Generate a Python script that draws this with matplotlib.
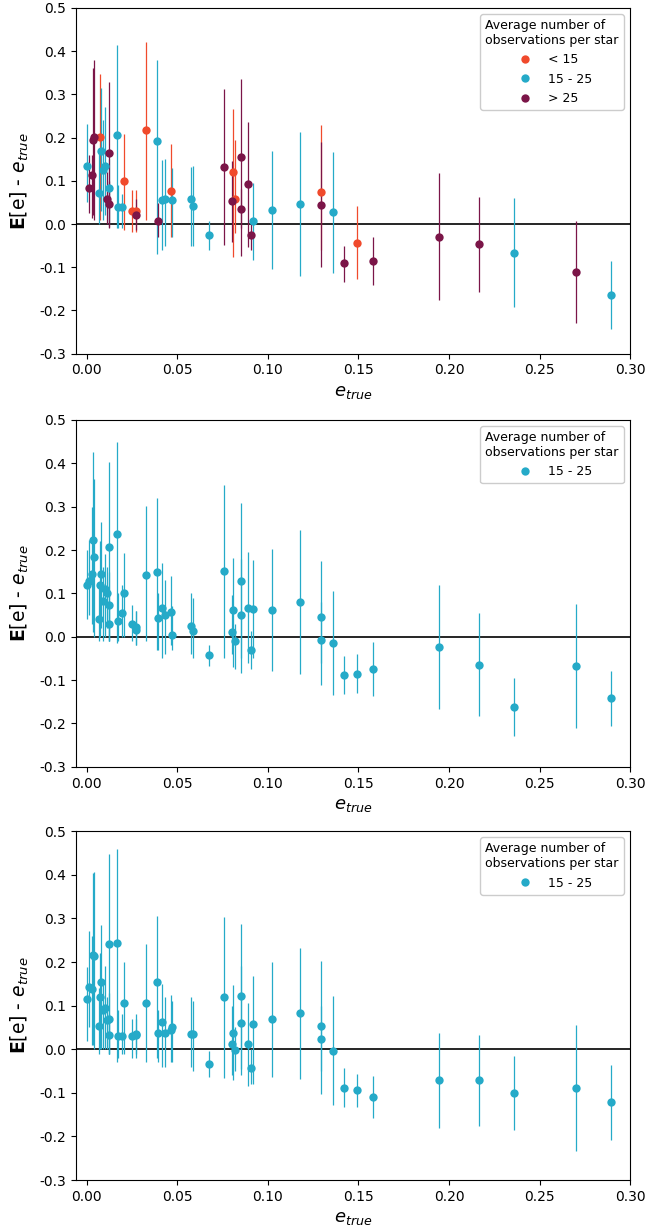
import numpy as np
import matplotlib
matplotlib.use("Agg")
import matplotlib.pyplot as plt
from matplotlib.lines import Line2D

plt.rcParams['axes.unicode_minus'] = False
plt.rcParams['font.family'] = ['DejaVu Sans']

# ---- data ----
e_true = [0.000, 0.001, 0.003, 0.0034, 0.0043, 0.0075, 0.007, 0.008, 0.009, 0.010,
          0.0123, 0.0123, 0.0114, 0.0123, 0.0167, 0.0173, 0.0197, 0.0206, 0.0249, 0.027,
          0.0274, 0.0327, 0.0388, 0.0396, 0.0414, 0.043, 0.0466, 0.0473, 0.0578, 0.0587,
          0.0678, 0.0758, 0.0808, 0.0805, 0.0818, 0.0851, 0.0854, 0.0891, 0.0917, 0.0906,
          0.1024, 0.1177, 0.1296, 0.1296, 0.136, 0.1418, 0.1493, 0.1578, 0.1947, 0.2164,
          0.2357, 0.2701, 0.2893]

group = ['mid', 'gt', 'gt', 'gt', 'gt', 'lt', 'mid', 'mid', 'mid', 'mid',
         'mid', 'gt', 'gt', 'gt', 'mid', 'mid', 'mid', 'lt', 'lt', 'lt',
         'gt', 'lt', 'mid', 'gt', 'mid', 'mid', 'lt', 'mid', 'mid', 'mid',
         'mid', 'gt', 'lt', 'gt', 'lt', 'gt', 'gt', 'gt', 'mid', 'gt',
         'mid', 'mid', 'gt', 'lt', 'mid', 'gt', 'lt', 'gt', 'gt', 'gt',
         'mid', 'gt', 'mid']

group_labels = {'lt': '< 15', 'mid': '15 - 25', 'gt': '> 25'}

# panel 1
y1 = [0.135, 0.083, 0.114, 0.195, 0.201, 0.201, 0.072, 0.168, 0.126, 0.135,
      0.083, 0.164, 0.058, 0.047, 0.207, 0.039, 0.039, 0.099, 0.031, 0.031,
      0.021, 0.217, 0.193, 0.008, 0.056, 0.058, 0.076, 0.056, 0.057, 0.042,
      -0.026, 0.133, 0.121, 0.053, 0.058, 0.155, 0.035, 0.092, 0.008, -0.025,
      0.032, 0.047, 0.045, 0.074, 0.027, -0.091, -0.043, -0.086, -0.029, -0.047,
      -0.066, -0.111, -0.164]
hi1 = [0.232, 0.160, 0.160, 0.362, 0.380, 0.347, 0.170, 0.315, 0.240, 0.272,
       0.150, 0.329, 0.120, 0.100, 0.414, 0.090, 0.070, 0.208, 0.079, 0.079,
       0.058, 0.422, 0.380, 0.049, 0.149, 0.150, 0.185, 0.130, 0.133, 0.135,
       0.006, 0.313, 0.266, 0.146, 0.195, 0.335, 0.080, 0.236, 0.095, 0.010,
       0.168, 0.214, 0.190, 0.229, 0.166, -0.050, 0.041, -0.031, 0.118, 0.063,
       0.061, 0.008, -0.086]
lo1 = [0.050, 0.026, 0.015, 0.020, 0.010, 0.010, 0.000, 0.030, 0.010, 0.020,
       0.000, -0.006, 0.000, -0.010, -0.009, -0.010, -0.010, -0.013, -0.018, -0.018,
       -0.013, 0.010, -0.070, -0.030, -0.060, -0.050, -0.030, -0.030, -0.050, -0.050,
       -0.060, -0.048, -0.077, -0.042, -0.020, -0.075, -0.010, -0.054, -0.083, -0.060,
       -0.103, -0.121, -0.100, -0.060, -0.113, -0.133, -0.126, -0.142, -0.175, -0.157,
       -0.193, -0.230, -0.242]

# panel 2
y2 = [0.120, 0.128, 0.144, 0.222, 0.184, 0.119, 0.042, 0.145, 0.082, 0.109,
      0.074, 0.206, 0.101, 0.029, 0.238, 0.037, 0.055, 0.101, 0.029, 0.022,
      0.015, 0.142, 0.150, 0.043, 0.066, 0.051, 0.058, 0.005, 0.025, 0.014,
      -0.043, 0.152, 0.061, 0.010, -0.009, 0.129, 0.050, 0.067, 0.063, -0.030,
      0.061, 0.079, -0.008, 0.046, -0.014, -0.088, -0.085, -0.074, -0.023, -0.064,
      -0.162, -0.068, -0.141]
hi2 = [0.199, 0.222, 0.300, 0.427, 0.363, 0.220, 0.120, 0.264, 0.160, 0.190,
       0.150, 0.403, 0.160, 0.080, 0.449, 0.100, 0.120, 0.194, 0.073, 0.060,
       0.060, 0.301, 0.319, 0.100, 0.170, 0.130, 0.140, 0.070, 0.100, 0.090,
       -0.018, 0.351, 0.182, 0.097, 0.030, 0.308, 0.180, 0.196, 0.177, 0.014,
       0.202, 0.245, 0.080, 0.174, 0.106, -0.044, -0.040, -0.013, 0.119, 0.054,
       -0.094, 0.075, -0.079]
lo2 = [0.040, 0.050, 0.030, 0.010, 0.000, 0.000, -0.010, 0.020, -0.010, 0.000,
       -0.010, -0.010, 0.020, -0.010, -0.015, -0.010, 0.000, 0.000, -0.010, -0.020,
       -0.020, -0.010, -0.030, -0.030, -0.050, -0.040, -0.020, -0.030, -0.040, -0.050,
       -0.067, -0.048, -0.070, -0.040, -0.075, -0.083, -0.050, -0.061, -0.050, -0.075,
       -0.080, -0.086, -0.111, -0.060, -0.134, -0.133, -0.129, -0.136, -0.167, -0.183,
       -0.229, -0.211, -0.205]

# panel 3
y3 = [0.115, 0.143, 0.138, 0.215, 0.213, 0.119, 0.054, 0.154, 0.089, 0.095,
      0.070, 0.242, 0.068, 0.032, 0.244, 0.031, 0.030, 0.107, 0.030, 0.032,
      0.034, 0.105, 0.154, 0.037, 0.063, 0.037, 0.044, 0.050, 0.036, 0.034,
      -0.033, 0.120, 0.037, 0.013, -0.001, 0.122, 0.061, 0.011, 0.059, -0.042,
      0.069, 0.083, 0.023, 0.054, -0.004, -0.089, -0.094, -0.110, -0.071, -0.071,
      -0.100, -0.089, -0.122]
hi3 = [0.189, 0.271, 0.260, 0.404, 0.407, 0.220, 0.140, 0.284, 0.160, 0.190,
       0.130, 0.447, 0.120, 0.080, 0.459, 0.090, 0.080, 0.200, 0.070, 0.080,
       0.070, 0.242, 0.306, 0.090, 0.150, 0.120, 0.125, 0.110, 0.120, 0.110,
       -0.005, 0.303, 0.148, 0.100, 0.050, 0.287, 0.190, 0.105, 0.167, 0.000,
       0.200, 0.233, 0.100, 0.202, 0.122, -0.044, -0.056, -0.062, 0.037, 0.032,
       -0.016, 0.055, -0.037]
lo3 = [0.020, 0.050, 0.010, 0.010, 0.000, 0.000, -0.010, 0.000, 0.000, 0.000,
       -0.010, -0.010, 0.000, -0.010, -0.030, -0.020, -0.010, -0.010, -0.020, -0.020,
       -0.010, -0.030, -0.020, -0.030, -0.040, -0.040, -0.030, -0.030, -0.040, -0.050,
       -0.064, -0.065, -0.070, -0.060, -0.050, -0.058, -0.045, -0.084, -0.080, -0.080,
       -0.063, -0.069, -0.050, -0.102, -0.128, -0.132, -0.132, -0.158, -0.181, -0.175,
       -0.186, -0.234, -0.209]

colors = {'lt': '#f04a2c', 'mid': '#25aac8', 'gt': '#7b1548'}

fig = plt.figure(figsize=(6.71, 12.26), dpi=100)
positions = [(0.113, 0.7115, 0.826, 0.2820),
             (0.113, 0.3745, 0.826, 0.2830),
             (0.113, 0.0375, 0.826, 0.2845)]


def draw_panel(ax, x, y, lo, hi, grp, groups_order):
    x = np.asarray(x); y = np.asarray(y); lo = np.asarray(lo); hi = np.asarray(hi)
    grp = np.asarray(grp)
    handles = []
    for g in groups_order:
        m = grp == g
        ax.errorbar(x[m], y[m], yerr=[y[m] - lo[m], hi[m] - y[m]], fmt='o',
                    color=colors[g], ms=6, elinewidth=0.9, capsize=0,
                    mec='none', zorder=3)
        handles.append(Line2D([], [], ls='none', marker='o', color=colors[g],
                              ms=6, mec='none', label=group_labels[g]))
    ax.axhline(0, color='black', lw=1.2, zorder=2)
    ax.set_xlim(-0.006, 0.30)
    ax.set_ylim(-0.3, 0.5)
    ax.set_xticks(np.arange(0, 0.301, 0.05))
    ax.set_xticklabels([f"{v:.2f}" for v in np.arange(0, 0.301, 0.05)])
    ax.set_yticks(np.arange(-0.3, 0.501, 0.1))
    ax.set_yticklabels([f"{v:.1f}" for v in np.arange(-0.3, 0.501, 0.1)])
    ax.tick_params(labelsize=10)
    ax.set_xlabel(r"$e_{true}$", fontsize=13)
    ax.set_ylabel(r"$\mathbf{E}$[e] - $e_{true}$", fontsize=13.5, labelpad=6)
    leg = ax.legend(handles=handles, loc='upper right',
                    title="Average number of\nobservations per star",
                    fontsize=9, title_fontsize=9, framealpha=1)
    leg.get_title().set_multialignment('left')


ax1 = fig.add_axes(positions[0])
draw_panel(ax1, e_true, y1, lo1, hi1, group, ['lt', 'mid', 'gt'])
ax2 = fig.add_axes(positions[1])
draw_panel(ax2, e_true, y2, lo2, hi2, ['mid'] * len(e_true), ['mid'])
ax3 = fig.add_axes(positions[2])
draw_panel(ax3, e_true, y3, lo3, hi3, ['mid'] * len(e_true), ['mid'])

fig.savefig("out.png", dpi=100)
